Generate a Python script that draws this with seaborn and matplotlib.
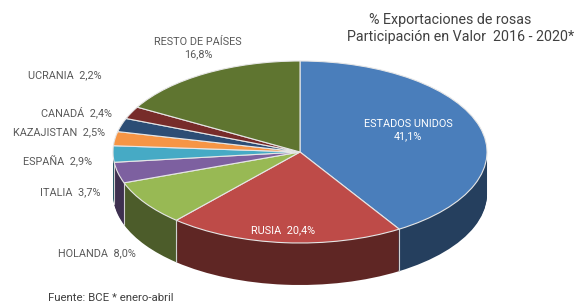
import numpy as np
import matplotlib
matplotlib.use("Agg")
import matplotlib.pyplot as plt
import matplotlib.colors as mcolors
import seaborn as sns

# data (clockwise from 12 o'clock)
countries = ["ESTADOS UNIDOS", "RUSIA", "HOLANDA", "ITALIA", "ESPAÑA",
             "KAZAJISTAN", "CANADÁ", "UCRANIA", "RESTO DE PAÍSES"]
shares = [41.1, 20.4, 8.0, 3.7, 2.9, 2.5, 2.4, 2.2, 16.8]
colors = ["#4a7ebb", "#be4b48", "#98b954", "#7d60a0", "#46aac5",
          "#f69545", "#2c4d75", "#772c2a", "#5f7530"]

title_lines = ["% Exportaciones de rosas", "Participación en Valor  2016 - 2020*"]
source_note = "Fuente: BCE * enero-abril"

sns.set_theme(style="white")
plt.rcParams["font.family"] = ["Roboto", "DejaVu Sans"]

W, H = 584, 306
CX, CY, RX, RY = 300, 152, 187, 91   # ellipse of the pie top, in pixels
DEPTH = 42 / RY                      # side height in data units


def px(x, y):
    # pixel position -> data coords of the pie axes
    return (x - CX) / RX, (CY - y) / RY


def fmt(v):
    return f"{v:.1f}".replace(".", ",") + "%"


fig = plt.figure(figsize=(W / 100, H / 100), dpi=100)
ax = fig.add_axes([0, 0, 1, 1])

# side of the cylinder: stacked darker pies
dark = [mcolors.to_hex(np.array(mcolors.to_rgb(c)) * 0.5) for c in colors]
n = 40
for k in range(n, 0, -1):
    ax.pie(shares, colors=dark, startangle=90, counterclock=False,
           center=(0, -DEPTH * k / n), radius=1, frame=True,
           wedgeprops=dict(linewidth=0))

# light lines where wedges meet on the front side
bounds = 90 - np.cumsum([0] + shares) * 3.6
for a in bounds:
    t = np.deg2rad(a)
    if np.sin(t) < -0.05:
        ax.plot([np.cos(t)] * 2, [np.sin(t), np.sin(t) - DEPTH],
                color="#d0d0d0", lw=0.8, zorder=3)

# top face
ax.pie(shares, colors=colors, startangle=90, counterclock=False,
       center=(0, 0), radius=1, frame=True,
       wedgeprops=dict(linewidth=0.8, edgecolor="#e6e6e6", zorder=4))

# labels
gray = "#595959"
fs = 7.8
outside = {
    "UCRANIA": (102, 75), "CANADÁ": (112, 112), "KAZAJISTAN": (105, 132),
    "ESPAÑA": (92, 160), "ITALIA": (101, 192), "HOLANDA": (136, 253),
}
for name, v in zip(countries, shares):
    if name in outside:
        x, y = px(*outside[name])
        ax.text(x, y, f"{name}  {fmt(v)}", ha="right", va="center",
                fontsize=fs, color=gray, zorder=6)

x, y = px(198, 48)
ax.text(x, y, f"{countries[8]}\n{fmt(shares[8])}", ha="center", va="center",
        fontsize=fs, color=gray, linespacing=1.25, zorder=6)
x, y = px(408, 130)
ax.text(x, y, f"{countries[0]}\n{fmt(shares[0])}", ha="center", va="center",
        fontsize=fs, color="white", linespacing=1.25, zorder=6)
x, y = px(283, 230)
ax.text(x, y, f"{countries[1]}  {fmt(shares[1])}", ha="center", va="center",
        fontsize=fs, color="white", zorder=6)

# title and source
fig.text(450 / W, 1 - 20 / H, title_lines[0], ha="center", va="center",
         fontsize=10.3, color="#404040")
fig.text(461 / W, 1 - 37 / H, title_lines[1], ha="center", va="center",
         fontsize=10.3, color="#404040")
fig.text(48 / W, 1 - 298 / H, source_note, ha="left", va="center",
         fontsize=8.2, color="#404040")

ax.set_aspect("auto")
ax.set_xlim(-CX / RX, (W - CX) / RX)
ax.set_ylim((CY - H) / RY, CY / RY)
ax.axis("off")

fig.savefig("out.png", dpi=100)
plt.close(fig)
